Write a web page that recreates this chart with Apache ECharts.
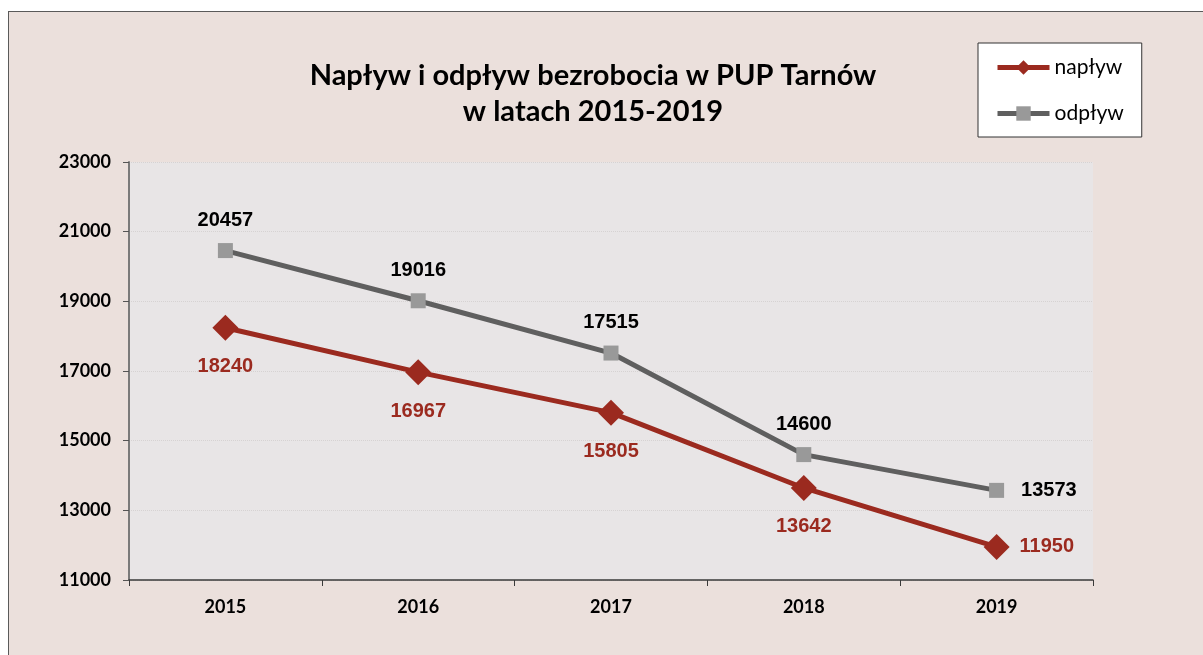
<!DOCTYPE html>
<html>
<head>
<meta charset="utf-8">
<script src="https://cdn.jsdelivr.net/npm/echarts@6/dist/echarts.min.js"></script>
<style>
  html, body { margin: 0; padding: 0; background: #fff; }
  #frame { position: absolute; left: 8px; top: 11px; width: 1300px; height: 700px; background: #ebe0dc; border: 1px solid #5a5a5a; box-sizing: border-box; }
  #chart { position: absolute; left: 0; top: 0; width: 1203px; height: 655px; }
</style>
</head>
<body>
<div id="frame"></div>
<div id="chart"></div>
<script>
// values
const years = ["2015", "2016", "2017", "2018", "2019"];
const naplyw = [18240, 16967, 15805, 13642, 11950];
const odplyw = [20457, 19016, 17515, 14600, 13573];
const yTicks = { min: 11000, max: 23000, step: 2000 };

const RED = "#9b2a1f", GRAY_LINE = "#5f5f5f", GRAY_MARK = "#999999";
const LABEL_FONT = "'Liberation Sans', Arial, sans-serif";
const AXIS_FONT = "Lato, 'Open Sans', sans-serif";

// last point gets its label on the right, others above / below
const withLabels = (vals, pos, dist) =>
  vals.map((v, i) => i === vals.length - 1
    ? { value: v, label: { position: "right", distance: dist.right } }
    : { value: v, label: { position: pos, distance: dist.main } });

const chart = echarts.init(document.getElementById("chart"), null, { renderer: "canvas" });
chart.setOption({
  animation: false,
  backgroundColor: "transparent",
  title: {
    text: "Napływ i odpływ bezrobocia w PUP Tarnów\nw latach 2015-2019",
    left: 588, top: 53, textAlign: "center",
    textStyle: { fontFamily: AXIS_FONT, fontWeight: "bold", fontSize: 29, lineHeight: 36, color: "#000" },
  },
  legend: {
    orient: "vertical", left: 978, top: 43, width: 120,
    padding: [14, 18, 13, 17], itemGap: 25,
    backgroundColor: "#fff", borderColor: "#333", borderWidth: 1,
    itemWidth: 52, itemHeight: 18,
    lineStyle: { width: 5 },
    textStyle: { fontFamily: AXIS_FONT, fontSize: 21, color: "#000" },
    data: ["napływ", "odpływ"],
  },
  grid: { left: 129, top: 162, width: 964, height: 418, show: true, backgroundColor: "#e8e5e6", borderWidth: 0 },
  xAxis: {
    type: "category", data: years, boundaryGap: true,
    axisLine: { lineStyle: { color: "#3a3a3a", width: 1.5 } },
    axisTick: { show: true, length: 6, lineStyle: { color: "#3a3a3a" } },
    axisLabel: { margin: 18, fontFamily: AXIS_FONT, fontWeight: "bold", fontSize: 18, color: "#000" },
    splitLine: { show: false },
  },
  yAxis: {
    type: "value", min: yTicks.min, max: yTicks.max, interval: yTicks.step,
    axisLine: { show: true, lineStyle: { color: "#7a7a7a", width: 2 } },
    axisTick: { show: true, length: 6, lineStyle: { color: "#555" } },
    axisLabel: { margin: 18, fontFamily: AXIS_FONT, fontWeight: "bold", fontSize: 18, color: "#000", formatter: (v) => String(v) },
    splitLine: { show: true, lineStyle: { color: "#d6d2d2", type: "dotted", width: 1 } },
  },
  series: [
    {
      name: "napływ", type: "line", data: withLabels(naplyw, "bottom", { main: 16, right: 10 }),
      symbol: "diamond", symbolSize: 26,
      lineStyle: { color: RED, width: 5 }, itemStyle: { color: RED },
      label: { show: true, fontFamily: LABEL_FONT, fontWeight: "bold", fontSize: 20, color: RED },
      z: 3,
    },
    {
      name: "odpływ", type: "line", data: withLabels(odplyw, "top", { main: 13, right: 17 }),
      symbol: "rect", symbolSize: 15,
      lineStyle: { color: GRAY_LINE, width: 5 }, itemStyle: { color: GRAY_MARK },
      label: { show: true, fontFamily: LABEL_FONT, fontWeight: "bold", fontSize: 20, color: "#000" },
      z: 2,
    },
  ],
});
</script>
</body>
</html>
